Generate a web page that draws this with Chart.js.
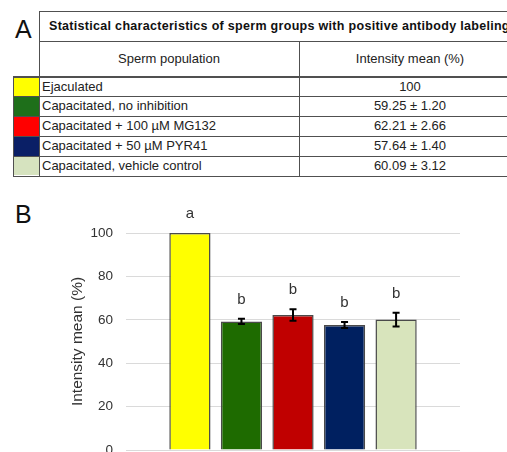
<!DOCTYPE html>
<html>
<head>
<meta charset="utf-8">
<script src="https://cdn.jsdelivr.net/npm/chart.js@4.4.1/dist/chart.umd.min.js"></script>
<style>
  html, body { margin: 0; padding: 0; background: #fff; }
  body { width: 507px; height: 452px; overflow: hidden; position: relative;
         font-family: "Liberation Sans", Arial, sans-serif; color: #222; }
  .panel { position: absolute; font-size: 25px; line-height: 25px; color: #111; }
  .hline { position: absolute; height: 1px; background: #505050; }
  .vline { position: absolute; width: 1px; background: #505050; }
  .cell { position: absolute; font-size: 13px; white-space: nowrap; }
  .swatch { position: absolute; }
  #chartBox { position: absolute; left: 0; top: 190px; width: 507px; height: 300px; }
</style>
</head>
<body>
<div class="panel" style="left:15px; top:17px;">A</div>
<div class="panel" style="left:15px; top:202px;">B</div>
<div id="table"></div>
<div id="chartBox"><canvas id="chart" width="507" height="300"></canvas></div>

<script>
// Sperm groups and their labeling intensity (mean ± SEM, % of ejaculated)
const categories = [
  'Ejaculated',
  'Capacitated, no inhibition',
  'Capacitated + 100 µM MG132',
  'Capacitated + 50 µM PYR41',
  'Capacitated, vehicle control'
];
const means = [100, 59.25, 62.21, 57.64, 60.09];
const sems = [0, 1.20, 2.66, 1.40, 3.12];
const groupLetters = ['a', 'b', 'b', 'b', 'b'];
const barColors = ['#FFFF00', '#1E6B00', '#C00000', '#002060', '#D8E4BC'];
const swatchColors = ['#FFFF00', '#1E6F1A', '#FF0000', '#0A1F66', '#D6E3BF'];
const yTicks = [0, 20, 40, 60, 80, 100];
const tableTitle = 'Statistical characteristics of sperm groups with positive antibody labeling';
const tableHeaders = ['Sperm population', 'Intensity mean (%)'];

// ---- Table A ----
(function buildTable() {
  const root = document.getElementById('table');
  const add = (cls, style, text) => {
    const d = document.createElement('div');
    d.className = cls;
    Object.assign(d.style, style);
    if (text !== undefined) d.textContent = text;
    root.appendChild(d);
    return d;
  };
  const L0 = 13, L1 = 39, MID = 299, R = 521;
  const top = 10.5, titleBottom = 40.5, headBottom = 76, rowH = 19.8;
  const n = categories.length;
  const bottom = headBottom + 0.5 + n * rowH;

  // title row
  add('cell', { left: '49px', top: top + 'px', height: (titleBottom - top) + 'px',
    lineHeight: (titleBottom - top) + 'px', fontWeight: 'bold', fontSize: '12.5px',
    letterSpacing: '0.3px', color: '#111' }, tableTitle);
  // header row
  add('cell', { left: L1 + 'px', width: (MID - L1) + 'px', textAlign: 'center',
    top: titleBottom + 'px', height: (headBottom - titleBottom) + 'px',
    lineHeight: (headBottom - titleBottom) + 'px' }, tableHeaders[0]);
  add('cell', { left: MID + 'px', width: (R - MID) + 'px', textAlign: 'center',
    top: titleBottom + 'px', height: (headBottom - titleBottom) + 'px',
    lineHeight: (headBottom - titleBottom) + 'px' }, tableHeaders[1]);

  // data rows
  for (let i = 0; i < n; i++) {
    const y = headBottom + 0.5 + i * rowH;
    add('swatch', { left: L0 + 'px', top: y + 'px', width: (L1 - L0) + 'px',
      height: rowH + 'px', background: swatchColors[i] });
    add('cell', { left: '42px', top: y + 'px', height: rowH + 'px',
      lineHeight: rowH + 'px' }, categories[i]);
    const txt = sems[i] ? means[i].toFixed(2) + ' \u00B1 ' + sems[i].toFixed(2) : String(means[i]);
    add('cell', { left: MID + 'px', width: (R - MID) + 'px', textAlign: 'center',
      top: y + 'px', height: rowH + 'px', lineHeight: rowH + 'px' }, txt);
  }

  // rules
  add('hline', { left: L1 + 'px', width: (R - L1) + 'px', top: top + 'px' });
  add('hline', { left: L1 + 'px', width: (R - L1) + 'px', top: titleBottom + 'px' });
  add('hline', { left: L0 + 'px', width: (R - L0) + 'px', top: (headBottom - 0.5) + 'px', height: '2px' });
  for (let i = 1; i <= n; i++) {
    add('hline', { left: L0 + 'px', width: (R - L0) + 'px', top: (headBottom + 0.5 + i * rowH) + 'px' });
  }
  add('vline', { left: L1 + 'px', top: top + 'px', height: (bottom - top) + 'px' });
  add('vline', { left: L0 + 'px', top: headBottom + 'px', height: (bottom - headBottom) + 'px' });
  add('vline', { left: MID + 'px', top: titleBottom + 'px', height: (bottom - titleBottom) + 'px' });
})();

// ---- Chart B ----
const FONT = '"Liberation Sans", Arial, sans-serif';

const errorBars = {
  id: 'errorBars',
  afterDatasetsDraw(chart) {
    const { ctx, scales: { y } } = chart;
    const meta = chart.getDatasetMeta(0);
    ctx.save();
    ctx.strokeStyle = '#000';
    ctx.lineWidth = 2;
    meta.data.forEach((bar, i) => {
      if (!sems[i]) return;
      const yt = y.getPixelForValue(means[i] + sems[i]);
      const yb = y.getPixelForValue(means[i] - sems[i]);
      const x = bar.x, cap = 3.5;
      ctx.beginPath();
      ctx.moveTo(x, yt); ctx.lineTo(x, yb);
      ctx.moveTo(x - cap, yt); ctx.lineTo(x + cap, yt);
      ctx.moveTo(x - cap, yb); ctx.lineTo(x + cap, yb);
      ctx.stroke();
    });
    ctx.restore();
  }
};

const letters = {
  id: 'groupLetters',
  afterDatasetsDraw(chart) {
    const { ctx, scales: { y } } = chart;
    const meta = chart.getDatasetMeta(0);
    ctx.save();
    ctx.fillStyle = '#333';
    ctx.font = '15px ' + FONT;
    ctx.textAlign = 'center';
    ctx.textBaseline = 'middle';
    meta.data.forEach((bar, i) => {
      const yy = y.getPixelForValue(means[i] + sems[i]) - 19;
      ctx.fillText(groupLetters[i], bar.x, yy);
    });
    ctx.restore();
  }
};

new Chart(document.getElementById('chart'), {
  type: 'bar',
  data: {
    datasets: [{
      label: 'Intensity mean (%)',
      data: means.map((v, i) => ({ x: i, y: v })),
      backgroundColor: barColors,
      borderColor: '#4a4a4a',
      borderWidth: 1.5,
      barPercentage: 0.8,
      categoryPercentage: 1
    }]
  },
  options: {
    responsive: false,
    animation: false,
    devicePixelRatio: 1,
    layout: { padding: { left: 0, top: 43, right: 47, bottom: 40 } },
    plugins: { legend: { display: false }, tooltip: { enabled: false } },
    scales: {
      x: { type: 'linear', min: -1.24, max: 5.24, offset: false, display: false },
      y: {
        min: 0, max: 100,
        afterBuildTicks: s => { s.ticks = yTicks.map(v => ({ value: v })); },
        ticks: { color: '#333', padding: 13, font: { size: 13.5, family: FONT } },
        grid: { color: '#dadada', lineWidth: 1, drawTicks: false },
        border: { display: false },
        title: {
          display: true, text: 'Intensity mean (%)', color: '#333',
          font: { size: 15.5, family: FONT }, padding: { top: 68.7, bottom: 0 }
        },
        afterFit: s => { s.width = 126; }
      }
    }
  },
  plugins: [errorBars, letters]
});
</script>
</body>
</html>
